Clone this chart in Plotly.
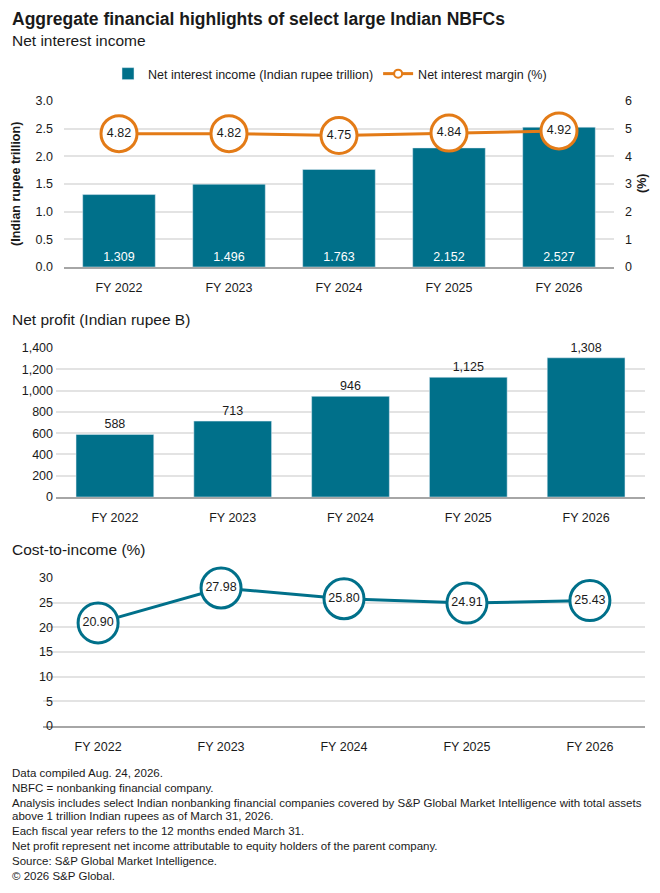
import plotly.graph_objects as go

teal = '#00708a'
orange = '#e37b17'
grid_gray = '#e3e3e3'
axis_gray = '#a6a6a6'
text_dark = '#1a1a1a'
font_name = 'Liberation Sans, Arial, sans-serif'

W, H = 660, 893

# data
years = ['FY 2022', 'FY 2023', 'FY 2024', 'FY 2025', 'FY 2026']
nii_trillion = [1.309, 1.496, 1.763, 2.152, 2.527]
nim_pct = [4.82, 4.82, 4.75, 4.84, 4.92]
net_profit_b = [588, 713, 946, 1125, 1308]
cost_to_income = [20.90, 27.98, 25.80, 24.91, 25.43]

title = 'Aggregate financial highlights of select large Indian NBFCs'
section_titles = ['Net interest income', 'Net profit (Indian rupee B)', 'Cost-to-income (%)']
footnotes = [
    'Data compiled Aug. 24, 2026.',
    'NBFC = nonbanking financial company.',
    'Analysis includes select Indian nonbanking financial companies covered by S&P Global Market Intelligence with total assets',
    'above 1 trillion Indian rupees as of March 31, 2026.',
    'Each fiscal year refers to the 12 months ended March 31.',
    'Net profit represent net income attributable to equity holders of the parent company.',
    'Source: S&P Global Market Intelligence.',
    '\u00a9 2026 S&P Global.',
]


def px_x(x):
    return x / W


def px_y(y):
    return 1 - y / H


fig = go.Figure()

# net interest income bars
fig.add_trace(go.Bar(
    x=years, y=nii_trillion, xaxis='x', yaxis='y',
    name='Net interest income (Indian rupee trillion)',
    marker_color=teal,
    texttemplate='%{y:.3f}', textposition='inside', insidetextanchor='start',
    textfont=dict(color='white', size=12.5),
    showlegend=True
))
# net interest margin line
fig.add_trace(go.Scatter(
    x=years, y=nim_pct, xaxis='x', yaxis='y2',
    mode='lines+markers+text',
    line=dict(color=orange, width=3),
    marker=dict(size=36, color='white', line=dict(color=orange, width=3)),
    texttemplate='%{y:.2f}', textposition='middle center',
    textfont=dict(color=text_dark, size=12.5),
    cliponaxis=False, showlegend=False
))
# legend entry for the margin line
fig.add_trace(go.Scatter(
    x=[None], y=[None], xaxis='x', yaxis='y2',
    name='Net interest margin (%)',
    mode='lines+markers',
    line=dict(color=orange, width=3),
    marker=dict(size=8, color='white', line=dict(color=orange, width=2))
))
# net profit bars
fig.add_trace(go.Bar(
    x=years, y=net_profit_b, xaxis='x2', yaxis='y3',
    marker_color=teal,
    texttemplate='%{y:,.0f}', textposition='outside',
    textfont=dict(color=text_dark, size=12.5),
    cliponaxis=False, showlegend=False
))
# cost-to-income line
fig.add_trace(go.Scatter(
    x=years, y=cost_to_income, xaxis='x3', yaxis='y4',
    mode='lines+markers+text',
    line=dict(color=teal, width=3),
    marker=dict(size=40, color='white', line=dict(color=teal, width=3)),
    texttemplate='%{y:.2f}', textposition='middle center',
    textfont=dict(color=text_dark, size=12.5),
    cliponaxis=False, showlegend=False
))

xcommon = dict(
    type='category', showgrid=False, showline=True, linecolor=axis_gray, linewidth=1.5,
    ticks='', tickfont=dict(size=12.5, color=text_dark), ticklabelstandoff=8,
    fixedrange=True, automargin=False
)
ycommon = dict(
    showgrid=True, gridcolor=grid_gray, gridwidth=1.5, zeroline=False, showline=False,
    ticks='', tickfont=dict(size=12.5, color=text_dark), ticklabelstandoff=10,
    fixedrange=True, automargin=False
)

annotations = [
    dict(text='<b>' + title + '</b>', x=px_x(10), y=px_y(19), font=dict(size=17.5)),
    dict(text=section_titles[0], x=px_x(10), y=px_y(40), font=dict(size=15.5)),
    dict(text=section_titles[1], x=px_x(10), y=px_y(320), font=dict(size=15.5)),
    dict(text=section_titles[2], x=px_x(10), y=px_y(549), font=dict(size=15.5)),
]
foot_y = [773, 788, 803, 816, 831, 846, 861, 876]
for line, yy in zip(footnotes, foot_y):
    annotations.append(dict(text=line, x=px_x(10), y=px_y(yy), font=dict(size=11.5)))
for a in annotations:
    a.update(xref='paper', yref='paper', xanchor='left', yanchor='middle', showarrow=False)
    a['font'].update(color=text_dark)

annotations += [
    dict(text='<b>(Indian rupee trillion)</b>', x=px_x(16), y=px_y(184), textangle=-90,
         xref='paper', yref='paper', xanchor='center', yanchor='middle', showarrow=False,
         font=dict(size=12.5, color=text_dark)),
    dict(text='<b>(%)</b>', x=px_x(642), y=px_y(184), textangle=-90,
         xref='paper', yref='paper', xanchor='center', yanchor='middle', showarrow=False,
         font=dict(size=12.5, color=text_dark)),
]

fig.update_layout(
    width=W, height=H,
    margin=dict(l=0, r=0, t=0, b=0, autoexpand=False),
    paper_bgcolor='white', plot_bgcolor='white',
    font=dict(family=font_name, color=text_dark),
    bargap=0.34,
    legend=dict(orientation='h', x=0.5, xanchor='center', y=px_y(74), yanchor='middle',
                font=dict(size=12.5), itemwidth=30, tracegroupgap=0),
    xaxis=dict(domain=[px_x(64), px_x(614)], anchor='y', **xcommon),
    yaxis=dict(domain=[px_y(267), px_y(101)], range=[0, 3], dtick=0.5, tickformat='.1f', **ycommon),
    yaxis2=dict(overlaying='y', side='right', anchor='x', range=[0, 6], dtick=1,
                showgrid=False, zeroline=False, ticks='', ticklabelstandoff=10,
                tickfont=dict(size=12.5, color=text_dark), fixedrange=True, automargin=False),
    xaxis2=dict(domain=[px_x(56), px_x(645)], anchor='y3', **xcommon),
    yaxis3=dict(domain=[px_y(497), px_y(348)], range=[0, 1400], dtick=200, tickformat=',', **ycommon),
    xaxis3=dict(domain=[px_x(43), px_x(645)], anchor='y4', **xcommon),
    yaxis4=dict(domain=[px_y(726), px_y(578)], range=[0, 30], dtick=5, **ycommon),
    annotations=annotations,
)

# the page body has a default 8px margin; drop it so the figure sits at the window corner
fig.write_html('out.html', config={'displayModeBar': False},
               post_script="document.body.style.margin='0';")
